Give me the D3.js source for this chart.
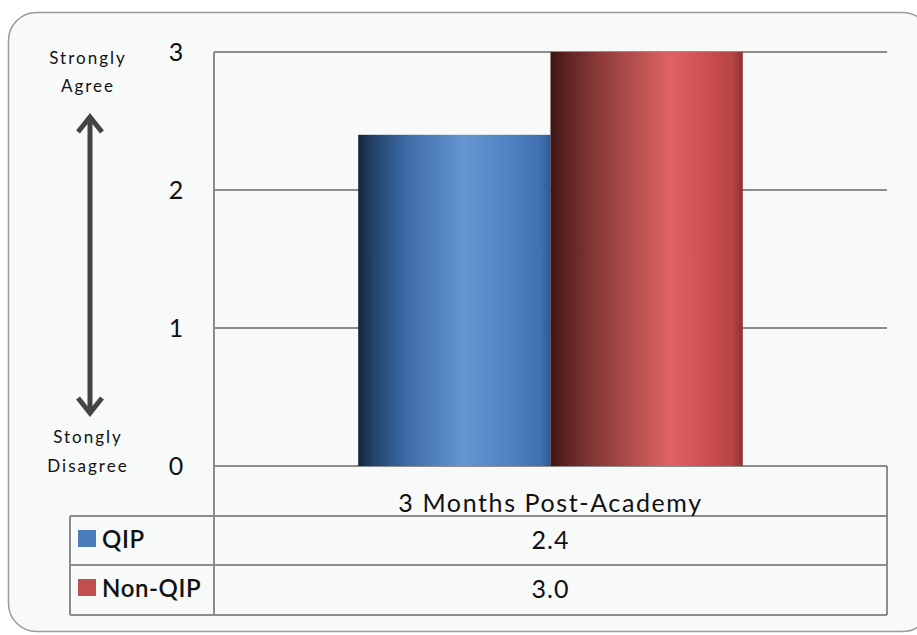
<!DOCTYPE html>
<html>
<head>
<meta charset="utf-8">
<script src="https://cdn.jsdelivr.net/npm/d3@7"></script>
<style>
  html, body { margin: 0; padding: 0; background: #ffffff; }
  svg { display: block; }
  text { font-family: Lato, "Open Sans", "Liberation Sans", sans-serif; fill: #111; }
</style>
</head>
<body>
<svg id="chart" width="917" height="635"></svg>
<script>
// Survey response, mean score
const categories = ["3 Months Post-Academy"];
const seriesNames = ["QIP", "Non-QIP"];
const seriesValues = [[2.4], [3.0]];
const valueLabels = [["2.4"], ["3.0"]];
const yTicks = [0, 1, 2, 3];
const seriesColors = ["#4a7ebb", "#c0504d"];

const svg = d3.select("#chart");

// frame
const plot = { left: 214, right: 887, top: 52, bottom: 466 };
const rowH = [50, 49, 50];
const tableLeft = 70;

const defs = svg.append("defs");
function barGradient(id, stops) {
  const g = defs.append("linearGradient").attr("id", id)
    .attr("x1", "0%").attr("x2", "100%").attr("y1", "0%").attr("y2", "0%");
  stops.forEach(s => g.append("stop").attr("offset", s[0]).attr("stop-color", s[1]));
}
barGradient("grad0", [["0%", "#142338"], ["8%", "#24436b"], ["25%", "#3d6ca6"], ["55%", "#6596d2"], ["80%", "#4f80c0"], ["95%", "#3f6faf"], ["100%", "#2f5a90"]]);
barGradient("grad1", [["0%", "#3e1414"], ["8%", "#5e2222"], ["25%", "#8c3a3a"], ["62%", "#e06262"], ["82%", "#cc4e4e"], ["95%", "#b64444"], ["100%", "#8a3030"]]);

// rounded panel background
svg.append("rect")
  .attr("x", 8.5).attr("y", 12.5).attr("width", 922).attr("height", 619)
  .attr("rx", 28).attr("ry", 28)
  .attr("fill", "#f8f9f9").attr("stroke", "#9a9a9a").attr("stroke-width", 1.5);

const y = d3.scaleLinear().domain([0, 3]).range([plot.bottom, plot.top]);
const x0 = d3.scaleBand().domain(categories).range([plot.left, plot.right]).padding(0);
const x1 = d3.scaleBand().domain(seriesNames).range([0, x0.bandwidth()])
  .paddingInner(0).paddingOuter(0.75);

// gridlines
svg.append("g").selectAll("line").data(yTicks).join("line")
  .attr("x1", plot.left).attr("x2", plot.right)
  .attr("y1", d => y(d)).attr("y2", d => y(d))
  .attr("stroke", "#8c8c8c").attr("stroke-width", 2);

// y tick labels
svg.append("g").selectAll("text").data(yTicks).join("text")
  .attr("x", 176).attr("y", d => y(d) + 9)
  .attr("text-anchor", "middle")
  .attr("font-size", 25)
  .text(d => d3.format("d")(d));

// bars
const groups = svg.append("g").selectAll("g").data(seriesNames).join("g");
groups.selectAll("rect")
  .data((s, i) => categories.map((c, j) => ({ s, i, c, v: seriesValues[i][j] })))
  .join("rect")
  .attr("x", d => x0(d.c) + x1(d.s))
  .attr("width", x1.bandwidth())
  .attr("y", d => y(d.v))
  .attr("height", d => y(0) - y(d.v))
  .attr("fill", d => `url(#grad${d.i})`);

// plot left border, extends down through the data table
svg.append("line")
  .attr("x1", plot.left).attr("x2", plot.left)
  .attr("y1", plot.top).attr("y2", plot.bottom + rowH[0] + rowH[1] + rowH[2])
  .attr("stroke", "#8c8c8c").attr("stroke-width", 2);

// data table
const t = svg.append("g").attr("fill", "none").attr("stroke", "#8c8c8c").attr("stroke-width", 2);
const r1 = plot.bottom + rowH[0];
const r2 = r1 + rowH[1];
const r3 = r2 + rowH[2];
t.append("line").attr("x1", plot.right).attr("x2", plot.right).attr("y1", plot.bottom).attr("y2", r3);
[r1, r2, r3].forEach(ry => {
  t.append("line").attr("x1", tableLeft).attr("x2", plot.right).attr("y1", ry).attr("y2", ry);
});
t.append("line").attr("x1", tableLeft).attr("x2", tableLeft).attr("y1", r1).attr("y2", r3);

// category label
svg.append("g").selectAll("text").data(categories).join("text")
  .attr("x", d => x0(d) + x0.bandwidth() / 2)
  .attr("y", plot.bottom + 46)
  .attr("text-anchor", "middle")
  .attr("font-size", 25)
  .attr("letter-spacing", 1.6)
  .text(d => d);

// table rows: legend key + values
const rowTops = [r1, r2];
seriesNames.forEach((s, i) => {
  const ry = rowTops[i];
  svg.append("rect")
    .attr("x", 78).attr("y", ry + 14).attr("width", 18).attr("height", 17)
    .attr("fill", seriesColors[i]);
  svg.append("text")
    .attr("x", 102).attr("y", ry + 32)
    .attr("font-size", 24).attr("font-weight", 600)
    .attr("letter-spacing", 0.6)
    .text(s);
  categories.forEach((c, j) => {
    svg.append("text")
      .attr("x", x0(c) + x0.bandwidth() / 2)
      .attr("y", ry + 33)
      .attr("text-anchor", "middle")
      .attr("font-size", 25)
      .attr("letter-spacing", 1)
      .text(valueLabels[i][j]);
  });
});

// scale annotation: two-headed arrow with end labels
svg.append("g").selectAll("text")
  .data([["Strongly", 64], ["Agree", 92], ["Stongly", 443], ["Disagree", 472]])
  .join("text")
  .attr("x", 88).attr("y", d => d[1])
  .attr("text-anchor", "middle")
  .attr("font-size", 17)
  .attr("letter-spacing", 2)
  .attr("fill", "#222")
  .text(d => d[0]);

const ax = 90;
const arrow = svg.append("g").attr("stroke", "#444").attr("stroke-width", 5)
  .attr("fill", "none").attr("stroke-linecap", "butt");
arrow.append("line").attr("x1", ax).attr("x2", ax).attr("y1", 118).attr("y2", 412);
arrow.append("path").attr("d", `M${ax - 12},${132} L${ax},${117} L${ax + 12},${132}`)
  .attr("stroke-linejoin", "miter");
arrow.append("path").attr("d", `M${ax - 12},${398} L${ax},${413} L${ax + 12},${398}`)
  .attr("stroke-linejoin", "miter");
</script>
</body>
</html>
